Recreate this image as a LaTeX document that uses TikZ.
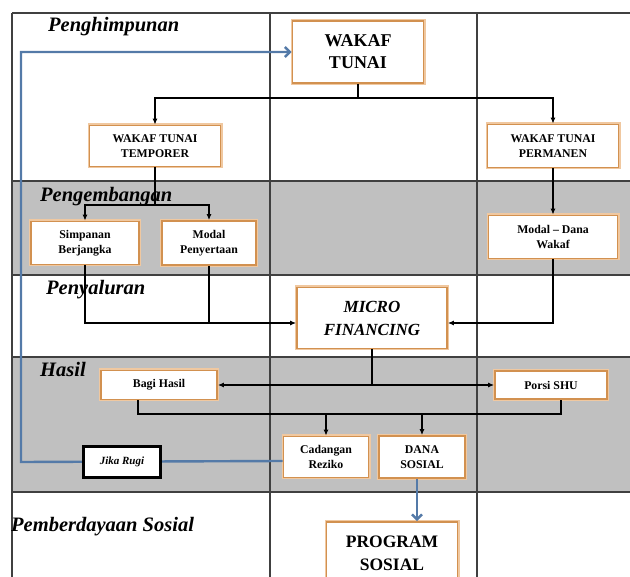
\documentclass[tikz,border=0pt]{standalone}
\usepackage{fontspec}
\setmainfont{Liberation Serif}
\usetikzlibrary{positioning,arrows.meta}
\definecolor{boxorange}{RGB}{210,145,80}
\definecolor{glow}{RGB}{240,200,160}
\definecolor{rowgray}{RGB}{192,192,192}
\definecolor{flowblue}{RGB}{84,122,168}
\tikzset{wbox/.style={draw=boxorange,line width=1.8pt,fill=white,align=center,inner sep=1pt,
    preaction={draw=glow,line width=4pt},font=\bfseries\fontsize{11.8}{15.5}\selectfont},
  bigbox/.style={wbox,font=\bfseries\fontsize{18}{22}\selectfont},
  stagelabel/.style={anchor=base west,inner sep=0pt,font=\bfseries\itshape\fontsize{20.5}{20.5}\selectfont},
  link/.style={line width=1.1pt},
  flow/.style={link,-{Latex[length=6pt,width=5pt]}},
  back/.style={line width=2.4pt,draw=flowblue,-{Straight Barb[length=5pt,width=10pt]}},
  grid/.style={line width=1.3pt,draw=black!75}
}

\begin{document}
\begin{tikzpicture}[x=1pt,y=-1pt]
  \useasboundingbox (0,0) rectangle (630,577);
  \clip (0,0) rectangle (630,577);

  % Rows
    \fill[rowgray] (12,181) rectangle (630,275);
    \fill[rowgray] (12,357) rectangle (630,492);
    \foreach \y in {13,181,275,357,492}
      \draw[grid] (12,\y) -- (630,\y);
    \foreach \x in {12,270,477}
      \draw[grid] (\x,13) -- (\x,577);

    \node[stagelabel] (l1) at (48,32) {Penghimpunan};
    \node[stagelabel] (l2) at (40,202) {Pengembangan};
    \node[stagelabel] (l3) at (46,295) {Penyaluran};
    \node[stagelabel] (l4) at (40,377) {Hasil};
    \node[stagelabel] (l5) at (11,532) {Pemberdayaan Sosial};

  % Penghimpunan
    \node[bigbox, minimum width=131, minimum height=62] (wt) at (358,52) {WAKAF\\TUNAI};
    \node[wbox, minimum width=131, minimum height=41] (wtt) at (155,146) {WAKAF TUNAI\\TEMPORER};
    \node[wbox, minimum width=131, minimum height=43] (wtp) at (553,146) {WAKAF TUNAI\\PERMANEN};

  % Pengembangan
    \node[wbox, minimum width=108, minimum height=43] (simp) at (85,243) {Simpanan\\Berjangka};
    \node[wbox, minimum width=94, minimum height=44] (modal) at (209,243) {Modal\\Penyertaan};
    \node[wbox, minimum width=129, minimum height=43] (mdw) at (553,237) {Modal -- Dana\\Wakaf};

  % Penyaluran
    \node[bigbox, minimum width=150, minimum height=61, font=\bfseries\itshape\fontsize{17}{23}\selectfont] (micro) at (372,318) {MICRO\\FINANCING};

  % Hasil
    \node[wbox, minimum width=116, minimum height=29] (bagi) at (159,385) {Bagi Hasil};
    \node[wbox, minimum width=112, minimum height=28] (porsi) at (551,385) {Porsi SHU};
    \node[wbox, minimum width=85, minimum height=41] (cad) at (326,457) {Cadangan\\Reziko};
    \node[wbox, minimum width=86, minimum height=42] (dana) at (422,457) {DANA\\SOSIAL};

  % Pemberdayaan Sosial
    \node[bigbox, minimum width=131, minimum height=62, font=\bfseries\fontsize{17.5}{23}\selectfont] (prog) at (392,553) {PROGRAM\\SOSIAL};

    % Wakaf tunai split
    \coordinate (split1) at (358,98);
    \draw[link] (wt.south) -- (split1);
    \draw[flow] (split1) -| (wtt.north);
    \draw[flow] (split1) -| (wtp.north);

    % Temporer split
    \coordinate (split2) at (155,205);
    \draw[link] (wtt.south) -- (split2);
    \draw[flow] (split2) -| (simp.north);
    \draw[flow] (split2) -| (modal.north);
    \draw[flow] (wtp.south) -- (mdw.north);

    % Into micro financing
    \coordinate (inL) at ([yshift=-5pt]micro.west);
    \coordinate (inR) at ([yshift=-5pt]micro.east);
    \draw[flow] (simp.south) |- (inL);
    \draw[link] (modal.south) -- (modal.south |- inL);
    \draw[flow] (mdw.south) |- (inR);

    % Micro financing to results
    \coordinate (split3) at (micro.south |- bagi.east);
    \draw[link] (micro.south) -- (split3);
    \draw[flow] (split3) -- (bagi.east);
    \draw[flow] (split3) -- (porsi.west);

    % Results to reserves
    \coordinate (shu) at (138,414);
    \draw[link] ([xshift=-21pt]bagi.south) -- (shu) -| ([xshift=10pt]porsi.south);
    \draw[flow] (cad.north |- shu) -- (cad.north);
    \draw[flow] (dana.north |- shu) -- (dana.north);

    % Loss back to wakaf tunai
    \coordinate (loop) at (21,462);
    \draw[back] ([yshift=-4pt]cad.west) -- (loop) |- (wt.west);
    \node[draw, line width=2.2pt, fill=white, minimum width=77, minimum height=31, font=\bfseries\itshape\fontsize{11}{11}\selectfont] (jika) at (122,462) {Jika Rugi};

    % Social fund to programme
    \draw[back] ([xshift=-5pt]dana.south) -- ([xshift=-5pt]dana.south |- prog.north);

\end{tikzpicture}
\end{document}
